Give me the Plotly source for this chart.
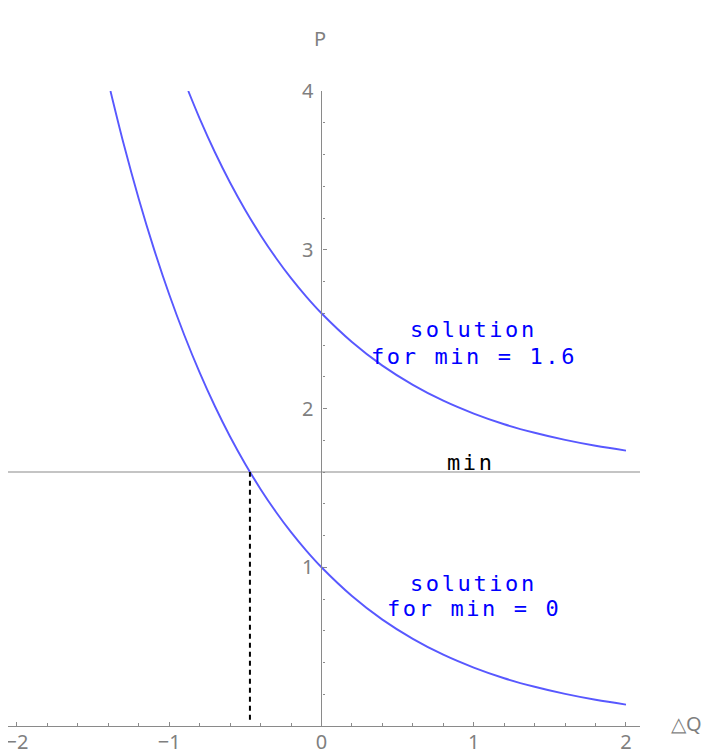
import plotly.graph_objects as go

# ---- data ----
sol0_x = [-1.386, -1.3, -1.2, -1.1, -1.0, -0.9, -0.8, -0.7, -0.6, -0.5, -0.4, -0.3, -0.2, -0.1,
          0.0, 0.2, 0.4, 0.6, 0.8, 1.0, 1.2, 1.4, 1.6, 1.8, 2.0]
sol0_y = [4.000, 3.669, 3.320, 3.004, 2.718, 2.460, 2.226, 2.014, 1.822, 1.649, 1.492, 1.350,
          1.221, 1.105, 1.000, 0.819, 0.670, 0.549, 0.449, 0.368, 0.301, 0.247, 0.202, 0.165, 0.135]

sol16_x = [-0.875, -0.8, -0.7, -0.6, -0.5, -0.4, -0.3, -0.2, -0.1, 0.0, 0.2, 0.4, 0.6, 0.8,
           1.0, 1.2, 1.4, 1.6, 1.8, 2.0]
sol16_y = [4.000, 3.826, 3.614, 3.422, 3.249, 3.092, 2.950, 2.821, 2.705, 2.600, 2.419, 2.270,
           2.149, 2.049, 1.968, 1.901, 1.847, 1.802, 1.765, 1.735]

min_level = 1.6
cross_x = -0.47          # where solution for min = 0 meets the min line

x_ticks = [-2, -1, 0, 1, 2]
x_tick_text = ["−2", "−1", "0", "1", "2"]
y_ticks = [1, 2, 3, 4]

x_range = [-2.059, 2.092]
y_range = [0, 4]

# ---- figure ----
curve_color = "rgb(88,88,255)"
axis_gray = "#8a8a8a"
label_gray = "#7f7f7f"
mono = "DejaVu Sans Mono"
sans = "Noto Sans"

fig = go.Figure()

fig.add_trace(go.Scatter(x=sol0_x, y=sol0_y, mode="lines", line_shape="spline",
                         line=dict(color=curve_color, width=1.9), hoverinfo="skip"))
fig.add_trace(go.Scatter(x=sol16_x, y=sol16_y, mode="lines", line_shape="spline",
                         line=dict(color=curve_color, width=1.9), hoverinfo="skip"))

# min line across the whole plot
fig.add_shape(type="line", xref="paper", yref="y", x0=0, x1=1, y0=min_level, y1=min_level,
              line=dict(color=axis_gray, width=1.2), layer="below")
# dashed drop line
fig.add_trace(go.Scatter(x=[cross_x, cross_x], y=[0.04, min_level], mode="lines",
                         line=dict(color="black", width=2, dash="5px,4px"), hoverinfo="skip"))


def spaced(t):
    return '<span style="letter-spacing:2.6px">' + t + '</span>'


ann_font_blue = dict(family=mono, size=22, color="blue")
texts = [
    ("solution", 1.0, 2.50, ann_font_blue),
    ("for min = 1.6", 1.0, 2.33, ann_font_blue),
    ("min", 0.985, 1.66, dict(family=mono, size=22, color="black")),
    ("solution", 1.0, 0.90, ann_font_blue),
    ("for min = 0", 1.0, 0.74, ann_font_blue),
]
for t, x, y, f in texts:
    fig.add_annotation(text=spaced(t), x=x, y=y, xref="x", yref="y", showarrow=False,
                       font=f, xanchor="center", yanchor="middle")

# axis labels (paper coordinates: plot area spans 0..1)
fig.add_annotation(text="P", x=0.494, y=1.083, xref="paper", yref="paper", showarrow=False,
                   font=dict(family=sans, size=20, color=label_gray),
                   xanchor="center", yanchor="middle")
fig.add_annotation(text="△Q", x=1.074, y=0.004, xref="paper", yref="paper", showarrow=False,
                   font=dict(family=sans, size=20, color=label_gray),
                   xanchor="center", yanchor="middle")

y_pos = (0 - x_range[0]) / (x_range[1] - x_range[0])

fig.update_layout(
    width=720, height=755,
    margin=dict(l=0, r=88, t=83, b=37),
    paper_bgcolor="white", plot_bgcolor="white",
    showlegend=False,
    xaxis=dict(range=x_range, tickvals=x_ticks, ticktext=x_tick_text, automargin=False,
               showgrid=False, zeroline=False, showline=True, linecolor=axis_gray, linewidth=1.2,
               ticks="inside", ticklen=4, tickcolor=axis_gray, tickwidth=1,
               minor=dict(ticks="inside", ticklen=2.5, dtick=0.2, tick0=0, tickcolor=axis_gray,
                          tickwidth=1, showgrid=False),
               tickfont=dict(family=sans, size=20, color=label_gray),
               ticklabelstandoff=-2, ticklabeloverflow="allow", fixedrange=True),
    yaxis=dict(range=y_range, tickvals=y_ticks, anchor="free", position=y_pos, automargin=False,
               showgrid=False, zeroline=False, showline=True, linecolor=axis_gray, linewidth=1.2,
               ticks="inside", ticklen=4, tickcolor=axis_gray, tickwidth=1,
               minor=dict(ticks="inside", ticklen=2.5, dtick=0.2, tick0=0, tickcolor=axis_gray,
                          tickwidth=1, showgrid=False),
               tickfont=dict(family=sans, size=20, color=label_gray),
               ticklabelstandoff=4, ticklabeloverflow="allow", fixedrange=True),
)

fig.write_html("out.html")
